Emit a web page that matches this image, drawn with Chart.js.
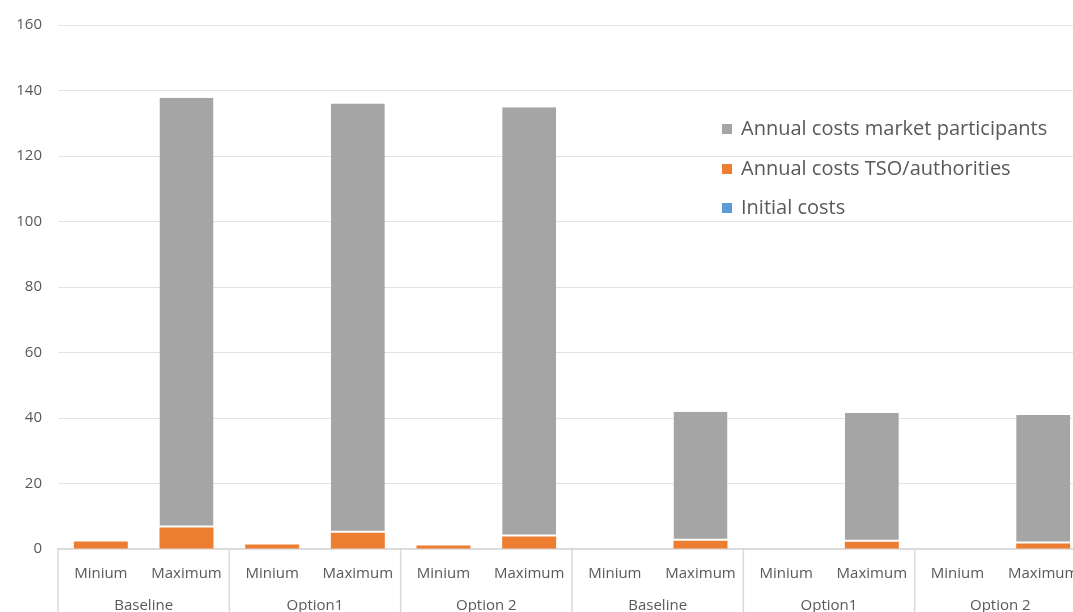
<!DOCTYPE html>
<html>
<head>
<meta charset="utf-8">
<script src="https://cdn.jsdelivr.net/npm/chart.js@4/dist/chart.umd.min.js"></script>
<style>
  html, body { margin: 0; padding: 0; background: #fff; overflow: hidden; }
  #wrap { position: relative; width: 1100px; height: 640px; }
  #legend { position: absolute; left: 722px; top: 114px; font-family: 'Open Sans', sans-serif; font-size: 20px; color: #595959; }
  #legend div { height: 39.5px; display: flex; align-items: flex-start; white-space: nowrap; }
  #legend span.box { display: inline-block; width: 10px; height: 10px; margin: 10px 9px 0 0; }
</style>
</head>
<body>
<div id="wrap">
  <canvas id="costChart"></canvas>
  <div id="legend"></div>
</div>
<script>
// Categories: two scenario levels per option
const categories = ['Minium', 'Maximum', 'Minium', 'Maximum', 'Minium', 'Maximum',
                    'Minium', 'Maximum', 'Minium', 'Maximum', 'Minium', 'Maximum']
const groups = ['Baseline', 'Option1', 'Option 2', 'Baseline', 'Option1', 'Option 2']

// Series values (stacked)
const initialCosts = [0, 0, 0, 0, 0, 0, 0, 0, 0, 0, 0, 0]
const tsoCosts = [2.3, 6.6, 1.4, 5.0, 1.1, 3.8, 0, 2.5, 0, 2.2, 0, 1.7]
const marketCosts = [0, 131.2, 0, 131.0, 0, 131.1, 0, 39.4, 0, 39.3, 0, 39.2]

const yTicks = [0, 20, 40, 60, 80, 100, 120, 140, 160]

const FONT = "'Open Sans', sans-serif"
const TEXT = '#595959'
const LINE = '#d9d9d9'

// Draws the group labels under the categories and the separators between groups
const groupAxis = {
  id: 'groupAxis',
  afterDraw(chart) {
    const { ctx, chartArea, scales } = chart
    const x = scales.x
    const half = (x.getPixelForValue(1) - x.getPixelForValue(0)) / 2
    ctx.save()
    ctx.strokeStyle = LINE
    ctx.lineWidth = 1.5
    for (let i = 0; i <= categories.length; i += 2) {
      const px = i === 0 ? x.getPixelForValue(0) - half : x.getPixelForValue(i - 1) + half
      ctx.beginPath()
      ctx.moveTo(px, chartArea.bottom)
      ctx.lineTo(px, chart.height)
      ctx.stroke()
    }
    ctx.fillStyle = TEXT
    ctx.font = '15px ' + FONT
    ctx.textAlign = 'center'
    ctx.textBaseline = 'middle'
    groups.forEach((g, k) => {
      const cx = (x.getPixelForValue(2 * k) + x.getPixelForValue(2 * k + 1)) / 2
      ctx.fillText(g, cx, chartArea.bottom + 57)
    })
    ctx.restore()
  },
}

const chart = new Chart(document.getElementById('costChart'), {
  type: 'bar',
  data: {
    labels: categories,
    datasets: [
      {
        label: 'Initial costs',
        data: initialCosts,
        backgroundColor: '#5b9bd5',
        borderWidth: 0,
      },
      {
        label: 'Annual costs TSO/authorities',
        data: tsoCosts,
        backgroundColor: '#ed7d31',
        borderWidth: 0,
      },
      {
        label: 'Annual costs market participants',
        data: marketCosts,
        backgroundColor: '#a5a5a5',
        borderColor: '#ffffff',
        borderWidth: { bottom: 2 },
        borderSkipped: false,
      },
    ],
  },
  options: {
    responsive: true,
    maintainAspectRatio: false,
    animation: false,
    layout: { padding: { top: 23, right: 14, left: 0, bottom: 0 } },
    datasets: { bar: { barPercentage: 1, categoryPercentage: 0.63 } },
    scales: {
      x: {
        stacked: true,
        grid: { display: false },
        border: { display: true, color: LINE, width: 1.5 },
        ticks: { color: TEXT, font: { family: FONT, size: 15 }, padding: 8, maxRotation: 0, autoSkip: false },
        afterFit: (s) => { s.height = 91 },
      },
      y: {
        stacked: true,
        min: 0,
        max: 160,
        afterBuildTicks: (s) => { s.ticks = yTicks.map((v) => ({ value: v })) },
        grid: { color: '#e3e3e3', lineWidth: 1, drawTicks: false },
        border: { display: false },
        ticks: { color: TEXT, font: { family: FONT, size: 15 }, padding: 16 },
        afterFit: (s) => { s.width = 58 },
      },
    },
    plugins: {
      legend: { display: false },
      tooltip: { enabled: false },
    },
  },
  plugins: [groupAxis],
})

// Legend in reverse dataset order, placed over the plot
const legend = document.getElementById('legend')
chart.data.datasets.slice().reverse().forEach((ds) => {
  const row = document.createElement('div')
  row.innerHTML = '<span class="box" style="background:' + ds.backgroundColor + '"></span>' + ds.label
  legend.appendChild(row)
})
</script>
</body>
</html>
